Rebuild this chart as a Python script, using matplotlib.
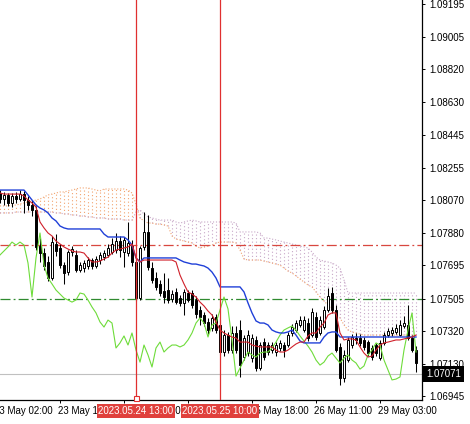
import numpy as np
import matplotlib
matplotlib.use("Agg")
import matplotlib.pyplot as plt
from matplotlib import transforms

# EURUSD H1 candles, bar 1 = 23 May 03:00 (bar 0 = 23 May 02:00, just off screen)
opens = [
    1.08110, 1.08076, 1.08099, 1.08053, 1.08093, 1.08076, 1.08104, 1.08070, 1.08041, 1.08013,
    1.07806, 1.07766, 1.07715, 1.07623, 1.07818, 1.07795, 1.07697, 1.07657, 1.07772, 1.07755,
    1.07669, 1.07680, 1.07692, 1.07726, 1.07692, 1.07726, 1.07743, 1.07755, 1.07772, 1.07783,
    1.07835, 1.07772, 1.07766, 1.07806, 1.07715, 1.07508, 1.07801, 1.07887, 1.07680, 1.07623,
    1.07589, 1.07549, 1.07554, 1.07503, 1.07543, 1.07508, 1.07480, 1.07537, 1.07537, 1.07497,
    1.07440, 1.07411, 1.07371, 1.07337, 1.07400, 1.07354, 1.07199, 1.07296, 1.07210, 1.07308,
    1.07325, 1.07170, 1.07193, 1.07164, 1.07268, 1.07107, 1.07256, 1.07239, 1.07210, 1.07199,
    1.07222, 1.07239, 1.07239, 1.07308, 1.07325, 1.07354, 1.07325, 1.07365, 1.07296, 1.07400,
    1.07308, 1.07342, 1.07440, 1.07537, 1.07440, 1.07228, 1.07050, 1.07153, 1.07239, 1.07279,
    1.07279, 1.07268, 1.07256, 1.07222, 1.07239, 1.07164, 1.07251, 1.07296, 1.07308, 1.07314,
    1.07296, 1.07348, 1.07354, 1.07279, 1.07210,
]
highs = [
    1.08127, 1.08116, 1.08110, 1.08110, 1.08116, 1.08127, 1.08122, 1.08093, 1.08070, 1.08036,
    1.07852, 1.07795, 1.07749, 1.07864, 1.07875, 1.07818, 1.07715, 1.07783, 1.07806, 1.07783,
    1.07715, 1.07726, 1.07743, 1.07738, 1.07749, 1.07772, 1.07783, 1.07818, 1.07852, 1.07881,
    1.07864, 1.07858, 1.07944, 1.07841, 1.07738, 1.07806, 1.08001, 1.07984, 1.07715, 1.07657,
    1.07612, 1.07652, 1.07623, 1.07554, 1.07566, 1.07526, 1.07560, 1.07554, 1.07554, 1.07520,
    1.07463, 1.07428, 1.07394, 1.07417, 1.07417, 1.07382, 1.07325, 1.07314, 1.07348, 1.07348,
    1.07382, 1.07296, 1.07325, 1.07302, 1.07291, 1.07256, 1.07279, 1.07256, 1.07256, 1.07256,
    1.07268, 1.07256, 1.07314, 1.07360, 1.07382, 1.07405, 1.07405, 1.07394, 1.07451, 1.07428,
    1.07405, 1.07463, 1.07566, 1.07572, 1.07468, 1.07251, 1.07210, 1.07285, 1.07302, 1.07308,
    1.07302, 1.07285, 1.07268, 1.07239, 1.07251, 1.07268, 1.07314, 1.07337, 1.07342, 1.07360,
    1.07382, 1.07405, 1.07468, 1.07296, 1.07233,
]
lows = [
    1.08053, 1.08041, 1.08036, 1.08030, 1.08053, 1.08064, 1.07996, 1.08013, 1.07978, 1.07783,
    1.07715, 1.07669, 1.07606, 1.07612, 1.07749, 1.07680, 1.07589, 1.07640, 1.07749, 1.07657,
    1.07657, 1.07657, 1.07674, 1.07674, 1.07680, 1.07703, 1.07726, 1.07743, 1.07761, 1.07766,
    1.07743, 1.07686, 1.07749, 1.07692, 1.07491, 1.07497, 1.07783, 1.07669, 1.07594, 1.07554,
    1.07520, 1.07480, 1.07480, 1.07485, 1.07474, 1.07463, 1.07411, 1.07485, 1.07451, 1.07394,
    1.07354, 1.07348, 1.07302, 1.07319, 1.07308, 1.07182, 1.07176, 1.07193, 1.07193, 1.07193,
    1.07056, 1.07153, 1.07176, 1.07141, 1.07090, 1.07096, 1.07153, 1.07182, 1.07193, 1.07176,
    1.07205, 1.07170, 1.07228, 1.07291, 1.07314, 1.07342, 1.07314, 1.07262, 1.07285, 1.07268,
    1.07296, 1.07331, 1.07428, 1.07423, 1.07199, 1.07010, 1.07027, 1.07141, 1.07222, 1.07245,
    1.07233, 1.07210, 1.07176, 1.07153, 1.07176, 1.07153, 1.07239, 1.07285, 1.07291, 1.07302,
    1.07291, 1.07337, 1.07268, 1.07199, 1.07084,
]
closes = [
    1.08076, 1.08099, 1.08053, 1.08093, 1.08076, 1.08104, 1.08070, 1.08041, 1.08013, 1.07801,
    1.07766, 1.07692, 1.07623, 1.07829, 1.07778, 1.07697, 1.07652, 1.07772, 1.07789, 1.07669,
    1.07697, 1.07709, 1.07726, 1.07692, 1.07732, 1.07755, 1.07766, 1.07795, 1.07818, 1.07835,
    1.07783, 1.07841, 1.07824, 1.07715, 1.07508, 1.07795, 1.07887, 1.07686, 1.07612, 1.07571,
    1.07537, 1.07514, 1.07497, 1.07531, 1.07485, 1.07480, 1.07543, 1.07497, 1.07468, 1.07417,
    1.07400, 1.07365, 1.07325, 1.07394, 1.07325, 1.07199, 1.07296, 1.07210, 1.07308, 1.07210,
    1.07124, 1.07279, 1.07296, 1.07279, 1.07107, 1.07239, 1.07170, 1.07199, 1.07239, 1.07239,
    1.07251, 1.07210, 1.07296, 1.07342, 1.07365, 1.07382, 1.07382, 1.07279, 1.07428, 1.07285,
    1.07382, 1.07440, 1.07520, 1.07440, 1.07210, 1.07050, 1.07182, 1.07268, 1.07285, 1.07268,
    1.07251, 1.07228, 1.07193, 1.07170, 1.07193, 1.07251, 1.07296, 1.07319, 1.07325, 1.07337,
    1.07354, 1.07365, 1.07279, 1.07210, 1.07136,
]

# Ichimoku lines as shown on the chart (same bars)
tenkan = [
    1.08110, 1.08104, 1.08104, 1.08104, 1.08104, 1.08104, 1.08093, 1.08070, 1.08053, 1.08030,
    1.07944, 1.07910, 1.07881, 1.07864, 1.07835, 1.07818, 1.07801, 1.07789, 1.07778, 1.07772,
    1.07772, 1.07766, 1.07738, 1.07715, 1.07715, 1.07720, 1.07732, 1.07743, 1.07766, 1.07783,
    1.07789, 1.07795, 1.07801, 1.07818, 1.07738, 1.07715, 1.07726, 1.07726, 1.07726, 1.07726,
    1.07726, 1.07726, 1.07726, 1.07726, 1.07715, 1.07640, 1.07589, 1.07543, 1.07531, 1.07514,
    1.07485, 1.07463, 1.07434, 1.07411, 1.07371, 1.07325, 1.07308, 1.07296, 1.07285, 1.07279,
    1.07256, 1.07256, 1.07256, 1.07239, 1.07233, 1.07228, 1.07228, 1.07228, 1.07228, 1.07210,
    1.07199, 1.07199, 1.07210, 1.07228, 1.07245, 1.07256, 1.07256, 1.07291, 1.07308, 1.07308,
    1.07342, 1.07365, 1.07411, 1.07423, 1.07423, 1.07308, 1.07268, 1.07274, 1.07274, 1.07268,
    1.07228, 1.07193, 1.07170, 1.07176, 1.07210, 1.07239, 1.07251, 1.07256, 1.07262, 1.07268,
    1.07268, 1.07274, 1.07279, 1.07285, 1.07296,
]
kijun = [
    1.08127, 1.08127, 1.08127, 1.08127, 1.08127, 1.08127, 1.08127, 1.08099, 1.08070, 1.08041,
    1.08024, 1.08013, 1.07996, 1.07967, 1.07950, 1.07921, 1.07910, 1.07904, 1.07904, 1.07904,
    1.07904, 1.07904, 1.07904, 1.07904, 1.07904, 1.07904, 1.07875, 1.07858, 1.07858, 1.07858,
    1.07858, 1.07858, 1.07841, 1.07812, 1.07738, 1.07715, 1.07738, 1.07738, 1.07738, 1.07738,
    1.07738, 1.07738, 1.07738, 1.07738, 1.07738, 1.07726, 1.07715, 1.07709, 1.07703, 1.07703,
    1.07697, 1.07692, 1.07680, 1.07657, 1.07623, 1.07572, 1.07572, 1.07572, 1.07572, 1.07572,
    1.07572, 1.07543, 1.07480, 1.07423, 1.07377, 1.07365, 1.07365, 1.07354, 1.07325, 1.07314,
    1.07308, 1.07308, 1.07314, 1.07325, 1.07296, 1.07262, 1.07251, 1.07251, 1.07251, 1.07251,
    1.07251, 1.07285, 1.07308, 1.07314, 1.07314, 1.07285, 1.07285, 1.07285, 1.07285, 1.07285,
    1.07285, 1.07285, 1.07285, 1.07285, 1.07285, 1.07285, 1.07285, 1.07285, 1.07285, 1.07285,
    1.07285, 1.07285, 1.07285, 1.07285, 1.07285,
]
chikou = [
    1.07755, 1.07778, 1.07801, 1.07829, 1.07812, 1.07829, 1.07812, 1.07709, 1.07514, 1.07738,
    1.07881, 1.07697, 1.07623, 1.07589, 1.07554, 1.07531, 1.07508, 1.07497, 1.07485, 1.07497,
    1.07537, 1.07531, 1.07497, 1.07457, 1.07423, 1.07371, 1.07342, 1.07382, 1.07365, 1.07222,
    1.07251, 1.07291, 1.07239, 1.07308, 1.07210, 1.07141, 1.07239, 1.07182, 1.07113, 1.07222,
    1.07256, 1.07199, 1.07222, 1.07239, 1.07239, 1.07228, 1.07239, 1.07268, 1.07308, 1.07365,
    1.07394, 1.07365, 1.07285, 1.07354, 1.07365, 1.07440, 1.07514, 1.07446, 1.07268, 1.07061,
    1.07107, 1.07153, 1.07199, 1.07182, 1.07170, 1.07193, 1.07199, 1.07199, 1.07222, 1.07256,
    1.07296, 1.07325, 1.07337, 1.07348, 1.07325, 1.07291, 1.07262, 1.07233, 1.07199, 1.07153,
    1.07124, 1.07141, 1.07176, 1.07193, 1.07164, 1.07136, 1.07164, 1.07182, 1.07153, 1.07136,
    1.07101, 1.07119, 1.07182, 1.07210, 1.07251, 1.07239, 1.07153, 1.07096, 1.07039, 1.07044,
    1.07056, 1.07210, 1.07325, 1.07423, 1.07199,
]
senkou_a = [
    1.08036, 1.08036, 1.08036, 1.08041, 1.08041, 1.08047, 1.08053, 1.08059, 1.08064, 1.08070,
    1.08076, 1.08087, 1.08099, 1.08104, 1.08110, 1.08116, 1.08116, 1.08122, 1.08127, 1.08133,
    1.08139, 1.08139, 1.08139, 1.08133, 1.08127, 1.08122, 1.08133, 1.08133, 1.08133, 1.08133,
    1.08133, 1.08133, 1.08127, 1.08110, 1.08047, 1.07967, 1.07950, 1.07938, 1.07938, 1.07932,
    1.07932, 1.07927, 1.07921, 1.07864, 1.07846, 1.07841, 1.07835, 1.07829, 1.07824, 1.07806,
    1.07795, 1.07801, 1.07806, 1.07812, 1.07824, 1.07829, 1.07829, 1.07829, 1.07829, 1.07824,
    1.07783, 1.07732, 1.07726, 1.07726, 1.07726, 1.07726, 1.07720, 1.07715, 1.07709, 1.07703,
    1.07697, 1.07680, 1.07663, 1.07652, 1.07635, 1.07617, 1.07600, 1.07583, 1.07572, 1.07543,
    1.07514, 1.07491, 1.07468, 1.07440, 1.07411, 1.07394, 1.07354, 1.07325, 1.07314, 1.07308,
    1.07302, 1.07296, 1.07296, 1.07296, 1.07296, 1.07296, 1.07296, 1.07296, 1.07296, 1.07296,
    1.07296, 1.07296, 1.07296, 1.07296, 1.07296,
]
senkou_b = [
    1.07996, 1.07996, 1.07996, 1.07996, 1.08001, 1.08001, 1.08001, 1.08001, 1.08001, 1.08001,
    1.08001, 1.08001, 1.08001, 1.08001, 1.07996, 1.07996, 1.07990, 1.07990, 1.07984, 1.07984,
    1.07978, 1.07978, 1.07973, 1.07973, 1.07967, 1.07967, 1.07967, 1.07961, 1.07961, 1.07961,
    1.07961, 1.07955, 1.07955, 1.07955, 1.08001, 1.08013, 1.07990, 1.07973, 1.07967, 1.07961,
    1.07955, 1.07955, 1.07955, 1.07955, 1.07944, 1.07938, 1.07944, 1.07950, 1.07955, 1.07950,
    1.07944, 1.07944, 1.07944, 1.07944, 1.07944, 1.07944, 1.07944, 1.07944, 1.07944, 1.07938,
    1.07887, 1.07887, 1.07887, 1.07887, 1.07887, 1.07881, 1.07852, 1.07852, 1.07846, 1.07841,
    1.07835, 1.07829, 1.07824, 1.07818, 1.07812, 1.07806, 1.07801, 1.07795, 1.07772, 1.07743,
    1.07726, 1.07720, 1.07715, 1.07709, 1.07697, 1.07680, 1.07612, 1.07537, 1.07537, 1.07537,
    1.07537, 1.07537, 1.07537, 1.07537, 1.07537, 1.07537, 1.07537, 1.07537, 1.07537, 1.07537,
    1.07537, 1.07537, 1.07537, 1.07537, 1.07537,
]

# axis labels and chart objects
price_ticks = [1.09195, 1.09005, 1.08820, 1.08630, 1.08445, 1.08255, 1.08070,
               1.07880, 1.07695, 1.07505, 1.07320, 1.07130, 1.06945]
time_label_bars = [0, 16, 32, 48, 64, 80, 96]
time_labels = ['23 May 02:00', '23 May 18:00', '24 May 10:00', '25 May 02:00',
               '25 May 18:00', '26 May 11:00', '29 May 03:00']
vline_bars = [35, 56]
vline_labels = ['2023.05.24 13:00', '2023.05.25 10:00']
red_level = 1.0781
green_level = 1.0750
bid_price = 1.07071

plt.rcParams['font.family'] = ['Liberation Sans', 'DejaVu Sans']
FS = 7

fig = plt.figure(figsize=(4.70, 4.24), dpi=100)
ax = fig.add_axes([0, 24 / 424, 422 / 470, 400 / 424])
ax.set_xlim(1.0, 106.5)
ax.set_ylim(1.06924, 1.09216)

idx = np.arange(1, len(closes) + 1)
o, h, l, c = (np.array(v) for v in (opens, highs, lows, closes))
sa, sb = np.array(senkou_a), np.array(senkou_b)

# cloud: dotted vertical hatch per bar
dots = (0, (1, 2.2))
bull = sa >= sb
ax.vlines(idx[bull], sb[bull], sa[bull], colors='#F2A470', linestyles=dots, lw=0.8, zorder=1)
ax.vlines(idx[~bull], sa[~bull], sb[~bull], colors='#C8A8C8', linestyles=dots, lw=0.8, zorder=1)
ax.plot(idx, sa, color='#F2A470', ls=':', lw=0.8, zorder=1)
ax.plot(idx, sb, color='#C8A8C8', ls=':', lw=0.8, zorder=1)

# horizontal objects
ax.axhline(red_level, color='#D8473F', lw=0.9, ls=(0, (8, 2.5, 1.5, 2.5)), zorder=2)
ax.axhline(green_level, color='#2F8A2F', lw=0.9, ls=(0, (8, 2.5, 1.5, 2.5)), zorder=2)
ax.axhline(bid_price, color='#C0C0C0', lw=0.8, zorder=2)

# candles
ax.vlines(idx, l, h, color='black', lw=0.75, zorder=3)
up = c >= o
ax.bar(idx[up], (c - o)[up], bottom=o[up], width=0.6, color='white',
       edgecolor='black', linewidth=0.7, zorder=4)
ax.bar(idx[~up], (o - c)[~up], bottom=c[~up], width=0.6, color='black',
       edgecolor='black', linewidth=0.7, zorder=4)

# ichimoku lines
ax.plot(idx, chikou, color='#6EDC3A', lw=0.8, zorder=5)
ax.plot(idx, kijun, color='#2040D8', lw=1.0, zorder=5)
ax.plot(idx, tenkan, color='#D0202A', lw=0.8, zorder=5)

# vertical objects
for b in vline_bars:
    ax.axvline(b, color='#E03030', lw=0.9, zorder=6)

# axes cosmetics
for side in ('top', 'left'):
    ax.spines[side].set_visible(False)
for side in ('right', 'bottom'):
    ax.spines[side].set_linewidth(0.9)
ax.yaxis.tick_right()
ax.set_yticks(price_ticks)
ax.set_yticklabels([f'{v:.5f}' for v in price_ticks])
ax.tick_params(axis='y', direction='out', length=2.5, width=0.7, pad=2.5, labelsize=FS)
ax.set_xticks(time_label_bars[1:])
ax.set_xticklabels([])
ax.tick_params(axis='x', direction='out', length=2.5, width=0.7)

bt = transforms.blended_transform_factory(ax.transData, ax.transAxes)
for b, lab in zip(time_label_bars, time_labels):
    ax.text(b - 0.5, -0.027, lab, transform=bt, ha='left', va='center',
            fontsize=FS, clip_on=False, zorder=7)
for b, lab in zip(vline_bars, vline_labels):
    ax.text(b, -0.027, lab, transform=bt, ha='center', va='center', fontsize=FS,
            color='white', clip_on=False, zorder=8,
            bbox=dict(boxstyle='square,pad=0.18', fc='#E0403C', ec='none'))
ax.plot([vline_bars[0]], [0.004], transform=bt, marker='s', ms=3.6, mfc='white',
        mec='#E03030', mew=0.8, clip_on=False, zorder=8)

# current price tag on the price scale
pt = transforms.blended_transform_factory(ax.transAxes, ax.transData)
ax.text(1 + 4 / 422, bid_price, f'{bid_price:.5f}', transform=pt, ha='left',
        va='center', fontsize=FS, color='white', clip_on=False, zorder=8,
        bbox=dict(boxstyle='square,pad=0.3', fc='black', ec='none'))

fig.savefig('out.png', dpi=100, facecolor='white')
